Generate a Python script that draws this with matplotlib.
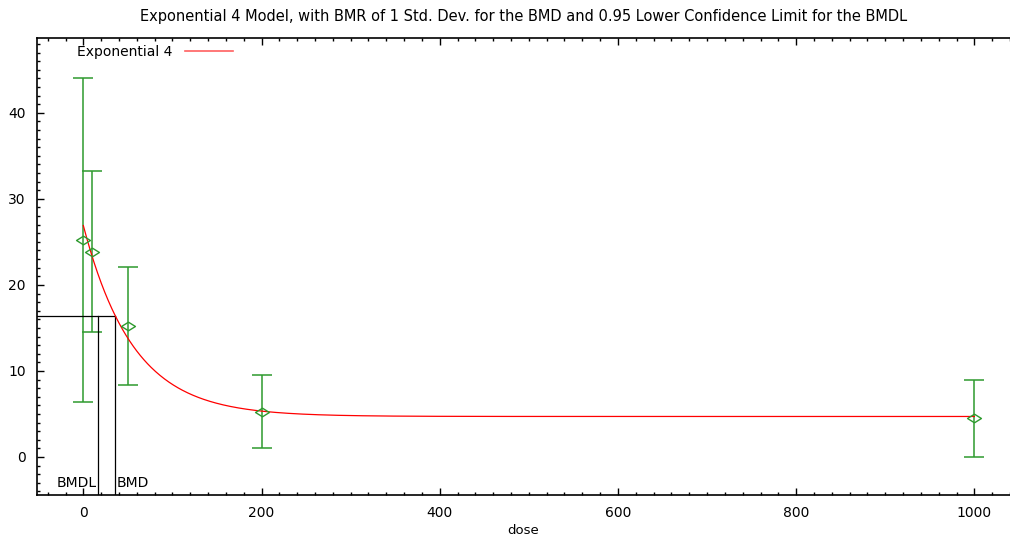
import numpy as np
import matplotlib.pyplot as plt
from matplotlib.path import Path
from matplotlib.ticker import MultipleLocator

plt.rcParams['font.family'] = ['DejaVu Sans']

# observed group means with confidence limits
doses = [0, 10, 50, 200, 1000]
means = [25.2, 23.8, 15.2, 5.2, 4.5]
upper = [44.1, 33.2, 22.1, 9.5, 9.0]
lower = [6.4, 14.5, 8.4, 1.0, 0.0]

# exponential 4 fit: y = a * (c - (c - 1) * exp(-b * dose))
a = 26.9
b = 0.01785
c = 0.175

bmr_level = 16.4
bmd = 35.9
bmdl = 16.8

fig = plt.figure(figsize=(10.10, 5.39), dpi=100)
ax = fig.add_axes([37 / 1010, 44 / 539, 1 - 37 / 1010, 457 / 539])

xs = np.linspace(0, 1000, 1000)
ys = a * (c - (c - 1) * np.exp(-b * xs))
ax.plot(xs, ys, color='red', lw=0.9, zorder=3)

# flattened open diamond
diamond = Path([(-1, 0), (0, 0.62), (1, 0), (0, -0.62), (-1, 0)],
               [Path.MOVETO, Path.LINETO, Path.LINETO, Path.LINETO, Path.CLOSEPOLY])

green = '#2e9a2e'
err_lo = np.array(means) - np.array(lower)
err_hi = np.array(upper) - np.array(means)
ax.errorbar(doses, means, yerr=[err_lo, err_hi], fmt='none', ecolor=green,
            elinewidth=1.1, capsize=7, capthick=1.1, zorder=2)
ax.plot(doses, means, ls='none', marker=diamond, markersize=10, mfc='none',
        mec=green, mew=1.0, zorder=4)

# BMD / BMDL markers
ax.plot([-60, bmd], [bmr_level, bmr_level], color='black', lw=0.9)
ax.plot([bmd, bmd], [-10, bmr_level], color='black', lw=0.9)
ax.plot([bmdl, bmdl], [-10, bmr_level], color='black', lw=0.9)
ax.text(bmdl - 1.5, -3.05, 'BMDL', ha='right', va='center', fontsize=10)
ax.text(bmd + 1, -3.05, 'BMD', ha='left', va='center', fontsize=10)

ax.set_xlim(-52, 1040)
ax.set_ylim(-4.42, 48.7)

ax.xaxis.set_major_locator(MultipleLocator(200))
ax.xaxis.set_minor_locator(MultipleLocator(20))
ax.yaxis.set_major_locator(MultipleLocator(10))
ax.yaxis.set_minor_locator(MultipleLocator(1))
ax.tick_params(which='both', direction='in', top=True, right=False,
               labelsize=10, width=1)
ax.tick_params(which='major', length=5)
ax.tick_params(which='minor', length=2.5)
ax.tick_params(axis='y', which='major', pad=8)
ax.tick_params(axis='x', which='major', pad=8)
ax.spines['right'].set_visible(False)
for s in ('left', 'bottom', 'top'):
    ax.spines[s].set_linewidth(1.2)

ax.set_xlabel('dose', fontsize=9.5, labelpad=3)
ax.set_title('Exponential 4 Model, with BMR of 1 Std. Dev. for the BMD and 0.95 '
             'Lower Confidence Limit for the BMDL', fontsize=10.5, pad=12)

# legend entry
ax.plot([], [], color='#ff6060', lw=1.2, label='Exponential 4')
ax.legend(loc='upper left', bbox_to_anchor=(0.028, 1.012), frameon=False,
          fontsize=10, markerfirst=False, handlelength=3.5, handletextpad=0.9)

fig.savefig('out.png', dpi=100)
